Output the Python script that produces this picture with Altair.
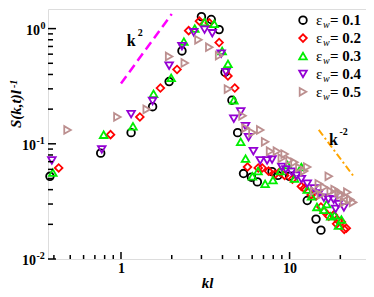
import altair as alt
import pandas as pd

W, H = 318, 250
XDOM = [0.369, 28.4]
YDOM = [0.01, 1.48]
SERIF = "Liberation Serif"

eps_labels = ["0.1", "0.2", "0.3", "0.4", "0.5"]
colors = ["#000000", "#ff0000", "#00ee00", "#9400d3", "#bc8f8f"]
shapes = ["circle", "diamond", "triangle-up", "triangle-down", "triangle-right"]

x1 = [0.379, 0.758, 1.148, 1.54, 1.93, 2.30, 3.00, 3.43, 3.82, 4.14, 4.55, 4.92, 5.33, 5.94, 6.44, 7.87, 8.52, 10.0, 12.73, 14.35, 15.35]
y1 = [0.0522, 0.0830, 0.125, 0.210, 0.347, 0.640, 1.27, 1.20, 0.98, 0.418, 0.239, 0.125, 0.0552, 0.0513, 0.0467, 0.0573, 0.0532, 0.0522, 0.0322, 0.0222, 0.0178]

x2 = [0.427, 0.867, 1.294, 1.713, 2.15, 2.52, 2.92, 3.34, 3.82, 4.31, 4.73, 5.63, 6.52, 6.88, 7.5, 8.18, 8.75, 9.35, 10.4, 11.75, 12.22, 13.42, 14.35, 15.35, 16.0, 17.08, 18.24, 19.0, 19.5, 20.3, 21.1, 21.7]
y2 = [0.0617, 0.120, 0.171, 0.305, 0.442, 0.96, 1.16, 1.12, 0.757, 0.388, 0.305, 0.0629, 0.0617, 0.0617, 0.058, 0.0542, 0.057, 0.0532, 0.0494, 0.0426, 0.041, 0.0360, 0.0353, 0.0283, 0.026, 0.0235, 0.024, 0.0202, 0.0214, 0.021, 0.0181, 0.0185]

x3 = [0.394, 0.789, 1.178, 1.56, 1.985, 2.36, 2.74, 3.13, 3.57, 3.98, 4.31, 4.67, 5.13, 5.48, 6.02, 6.5, 7.16, 7.97, 8.8, 9.73, 10.7, 11.75, 12.73, 13.5, 14.53, 15.97, 16.6, 17.54, 18.5, 19.5, 20.3]
y3 = [0.0562, 0.120, 0.142, 0.272, 0.374, 0.771, 1.0, 1.14, 1.10, 0.640, 0.494, 0.239, 0.104, 0.0743, 0.0522, 0.058, 0.0450, 0.0485, 0.058, 0.0653, 0.050, 0.0629, 0.040, 0.035, 0.0283, 0.0267, 0.030, 0.0235, 0.024, 0.0195, 0.022]

x4 = [0.389, 0.769, 1.148, 1.54, 1.93, 2.30, 2.70, 3.13, 3.48, 3.93, 4.20, 4.67, 5.13, 5.48, 5.71, 6.10, 6.70, 7.36, 7.87, 8.99, 9.5, 10.27, 11.0, 11.75, 12.73, 13.96, 14.9, 15.97, 17.0, 18.24, 18.75, 19.5, 21.0]
y4 = [0.0716, 0.0895, 0.181, 0.235, 0.476, 0.703, 0.929, 0.98, 0.911, 0.606, 0.418, 0.165, 0.191, 0.142, 0.114, 0.0862, 0.0716, 0.0716, 0.0730, 0.0629, 0.060, 0.0573, 0.053, 0.0494, 0.045, 0.0410, 0.037, 0.0340, 0.033, 0.0328, 0.0272, 0.030, 0.028]

x5 = [0.482, 0.952, 1.421, 1.93, 2.39, 2.88, 3.34, 3.82, 4.31, 5.26, 5.48, 6.02, 6.70, 7.16, 7.66, 8.41, 8.99, 9.35, 10.0, 10.69, 11.43, 12.22, 12.73, 13.96, 14.9, 15.35, 16.0, 17.08, 17.54, 18.5, 19.5, 20.0, 21.0, 21.4, 22.0, 22.9, 23.8]
y5 = [0.132, 0.171, 0.199, 0.573, 0.503, 0.80, 0.690, 0.583, 0.299, 0.175, 0.137, 0.125, 0.132, 0.104, 0.0862, 0.0862, 0.075, 0.0815, 0.072, 0.0690, 0.062, 0.058, 0.0629, 0.0388, 0.045, 0.036, 0.042, 0.0522, 0.0388, 0.040, 0.038, 0.0360, 0.031, 0.035, 0.038, 0.0328, 0.0310]

xs_all = [x1, x2, x3, x4, x5]
ys_all = [y1, y2, y3, y4, y5]

# guide lines
k2_x = [1.0, 2.0]
k2_y = [0.334, 1.34]
km2_x = [14.9, 24.2]
km2_y = [0.132, 0.0513]

x_major = [1, 10]
x_minor = [0.4, 0.5, 0.6, 0.7, 0.8, 0.9, 2, 3, 4, 5, 6, 7, 8, 9, 20]
y_major = [0.01, 0.1, 1]
y_minor = [0.02, 0.03, 0.04, 0.05, 0.06, 0.07, 0.08, 0.09,
           0.2, 0.3, 0.4, 0.5, 0.6, 0.7, 0.8, 0.9]

rows = []
for lab, xs, ys in zip(eps_labels, xs_all, ys_all):
    for a, b in zip(xs, ys):
        rows.append({"eps": lab, "kl": a, "S": b})
df = pd.DataFrame(rows)

xscale = alt.Scale(type="log", domain=XDOM, nice=False)
yscale = alt.Scale(type="log", domain=YDOM, nice=False)
xaxis = alt.Axis(values=x_major, format="d", ticks=False, domain=False, grid=False,
                 labelFont=SERIF, labelFontWeight="bold", labelFontSize=14,
                 labelColor="black", labelPadding=2, title="kl", titleFont=SERIF,
                 titleFontStyle="italic", titleFontWeight="bold", titleFontSize=15,
                 titleColor="black", titleBaseline="top", titleY=16)


def X(f):
    return alt.X(f, scale=xscale, axis=xaxis)


def Y(f):
    return alt.Y(f, scale=yscale, axis=None)


points = alt.Chart(df).mark_point(filled=False, strokeWidth=1.8, size=58, opacity=1).encode(
    x=X("kl:Q"), y=Y("S:Q"),
    color=alt.Color("eps:N", scale=alt.Scale(domain=eps_labels, range=colors), legend=None),
    shape=alt.Shape("eps:N", scale=alt.Scale(domain=eps_labels, range=shapes), legend=None),
    order=alt.Order("eps:N"),
)

k2 = alt.Chart(pd.DataFrame({"x": k2_x, "y": k2_y})).mark_line(
    color="#ff00ff", strokeDash=[9, 5], strokeWidth=2.5, clip=True).encode(x=X("x:Q"), y=Y("y:Q"))
km2 = alt.Chart(pd.DataFrame({"x": km2_x, "y": km2_y})).mark_line(
    color="#ffa500", strokeDash=[7, 3, 2, 3], strokeWidth=2).encode(x=X("x:Q"), y=Y("y:Q"))

ann = pd.DataFrame({
    "x": [1.148, 1.30, 18.2, 20.9],
    "y": [0.786, 0.92, 0.1077, 0.127],
    "t": ["k", "2", "k", "-2"],
    "fs": [16, 10, 16, 10],
})
ann_text = alt.Chart(ann).mark_text(font=SERIF, fontWeight="bold", color="black", baseline="middle").encode(
    x=X("x:Q"), y=Y("y:Q"), text="t:N",
    size=alt.Size("fs:Q", scale=None, legend=None))

xmaj = alt.Chart(pd.DataFrame({"v": x_major})).mark_rule(color="black", strokeWidth=1.5).encode(
    x=X("v:Q"), y=alt.value(H), y2=alt.value(H - 7))
xmin = alt.Chart(pd.DataFrame({"v": x_minor})).mark_rule(color="black", strokeWidth=1.5).encode(
    x=X("v:Q"), y=alt.value(H), y2=alt.value(H - 4))
ymaj = alt.Chart(pd.DataFrame({"v": y_major})).mark_rule(color="black", strokeWidth=1.5).encode(
    y=Y("v:Q"), x=alt.value(0), x2=alt.value(8))
ymin = alt.Chart(pd.DataFrame({"v": y_minor})).mark_rule(color="black", strokeWidth=1.5).encode(
    y=Y("v:Q"), x=alt.value(0), x2=alt.value(5))

ylab_df = pd.DataFrame({"v": [1.0, 0.1, 0.01], "sup": ["0", "-1", "-2"]})
ylab0 = alt.Chart(ylab_df[ylab_df.v == 1.0]).mark_text(
    font=SERIF, fontWeight="bold", fontSize=14, align="right", baseline="middle", x=-8, dy=2,
    color="black").encode(y=Y("v:Q"), text=alt.value("10"))
ysup0 = alt.Chart(ylab_df[ylab_df.v == 1.0]).mark_text(
    font=SERIF, fontWeight="bold", fontSize=10, align="left", baseline="middle", x=-7.5, dy=-3,
    color="black").encode(y=Y("v:Q"), text="sup:N")
ylab1 = alt.Chart(ylab_df[ylab_df.v < 1.0]).mark_text(
    font=SERIF, fontWeight="bold", fontSize=14, align="right", baseline="middle", x=-12, dy=2,
    color="black").encode(y=Y("v:Q"), text=alt.value("10"))
ysup1 = alt.Chart(ylab_df[ylab_df.v < 1.0]).mark_text(
    font=SERIF, fontWeight="bold", fontSize=10, align="left", baseline="middle", x=-11.5, dy=-3,
    color="black").encode(y=Y("v:Q"), text="sup:N")

one = pd.DataFrame({"i": [0]})
ytitle = alt.Chart(one).mark_text(
    font=SERIF, fontWeight="bold", fontStyle="italic", fontSize=15, angle=270, align="left",
    baseline="alphabetic", color="black", text="S(k,t)l").encode(x=alt.value(-27), y=alt.value(119))
ytitle_sup = alt.Chart(one).mark_text(
    font=SERIF, fontWeight="bold", fontStyle="italic", fontSize=10, angle=270, align="left",
    baseline="alphabetic", color="black", text="-1").encode(x=alt.value(-31.5), y=alt.value(79))

legend_layers = []
for i, (lab, col, shp) in enumerate(zip(eps_labels, colors, shapes)):
    yy = 11.2 + 17.9 * i
    legend_layers.append(alt.Chart(one).mark_point(
        shape=shp, color=col, filled=False, strokeWidth=1.8, size=58, opacity=1).encode(
        x=alt.value(255), y=alt.value(yy)))
    legend_layers.append(alt.Chart(one).mark_text(
        font=SERIF, fontSize=15, align="left", baseline="middle", color="black", text="ε").encode(
        x=alt.value(268), y=alt.value(yy)))
    legend_layers.append(alt.Chart(one).mark_text(
        font=SERIF, fontSize=10, fontStyle="italic", align="left", baseline="middle", color="black",
        text="w").encode(x=alt.value(275), y=alt.value(yy + 5)))
    legend_layers.append(alt.Chart(one).mark_text(
        font=SERIF, fontSize=15, fontWeight="bold", align="left", baseline="middle", color="black",
        text="= " + lab).encode(x=alt.value(282), y=alt.value(yy)))

chart = alt.layer(
    k2, km2, points, ann_text, xmaj, xmin, ymaj, ymin,
    ylab0, ysup0, ylab1, ysup1, ytitle, ytitle_sup, *legend_layers
).properties(
    width=W, height=H, autosize="none",
    padding={"left": 40, "top": 1, "right": 0, "bottom": 30},
).configure_view(stroke="black", strokeWidth=2).configure(background="white")

chart.save("out.html", embed_options={"renderer": "svg", "actions": False})
